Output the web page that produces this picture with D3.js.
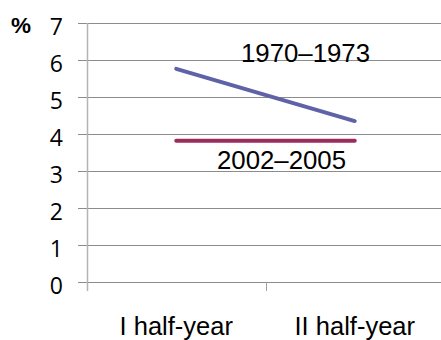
<!DOCTYPE html>
<html>
<head>
<meta charset="utf-8">
<script src="https://cdn.jsdelivr.net/npm/d3@7"></script>
<style>
  html, body { margin: 0; padding: 0; background: #fff; }
  svg { display: block; }
</style>
</head>
<body>
<div id="chart"></div>
<script>
// Half-year categories and the two period series (percent)
const categories = ["I half-year", "II half-year"];
const series1970 = [5.76, 4.35];
const series2002 = [3.82, 3.82];
const seriesNames = ["1970–1973", "2002–2005"];
const yTicks = [0, 1, 2, 3, 4, 5, 6, 7];

const width = 441, height = 340;
const plotLeft = 87, plotRight = 444, plotTop = 23, plotBottom = 282;

const svg = d3.select("#chart").append("svg")
  .attr("width", width).attr("height", height);

const x = d3.scaleBand().domain(categories).range([plotLeft, plotRight]);
const y = d3.scaleLinear().domain([0, 7]).range([plotBottom, plotTop]);

// Horizontal gridlines with short tick stubs to the left of the axis
svg.append("g").selectAll("line").data(yTicks).join("line")
  .attr("x1", plotLeft - 9).attr("x2", width)
  .attr("y1", d => Math.round(y(d)) + 0.5).attr("y2", d => Math.round(y(d)) + 0.5)
  .attr("stroke", "#8c8c8c").attr("stroke-width", 1);

// Value axis line
svg.append("line")
  .attr("x1", plotLeft + 0.5).attr("x2", plotLeft + 0.5)
  .attr("y1", plotTop).attr("y2", plotBottom + 9)
  .attr("stroke", "#b4b4b4").attr("stroke-width", 1.5);

// Category boundary tick between the two half-years
const boundaries = [x(categories[1])];
svg.append("g").selectAll("line").data(boundaries).join("line")
  .attr("x1", d => Math.round(d) + 0.5).attr("x2", d => Math.round(d) + 0.5)
  .attr("y1", plotBottom).attr("y2", plotBottom + 9)
  .attr("stroke", "#a0a0a0").attr("stroke-width", 1);

// Y tick labels
svg.append("g").selectAll("text").data(yTicks).join("text")
  .attr("x", 63).attr("y", d => y(d) + 12)
  .attr("text-anchor", "end")
  .attr("font-family", "'Open Sans', 'Noto Sans', sans-serif")
  .attr("font-size", 23)
  .attr("fill", "#000")
  .text(d => d);

// Unit label
svg.append("text")
  .attr("x", 11).attr("y", 33)
  .attr("font-family", "'Liberation Sans', Arial, sans-serif")
  .attr("font-weight", "bold")
  .attr("font-size", 22.5)
  .text("%");

// Category labels
svg.append("g").selectAll("text").data(categories).join("text")
  .attr("x", d => x(d) + x.bandwidth() / 2)
  .attr("y", 335)
  .attr("text-anchor", "middle")
  .attr("font-family", "'Liberation Sans', Arial, sans-serif")
  .attr("font-size", 25.5)
  .attr("fill", "#000")
  .text(d => d);

// Series lines
const line = d3.line()
  .x((d, i) => x(categories[i]) + x.bandwidth() / 2)
  .y(d => y(d));

svg.append("path").datum(series1970)
  .attr("d", line).attr("fill", "none")
  .attr("stroke", "#5f62a6").attr("stroke-width", 4)
  .attr("stroke-linecap", "round");

svg.append("path").datum(series2002)
  .attr("d", line).attr("fill", "none")
  .attr("stroke", "#9c2c5e").attr("stroke-width", 4)
  .attr("stroke-linecap", "round");

// Series labels
svg.append("text")
  .attr("x", 305.5).attr("y", 62)
  .attr("text-anchor", "middle")
  .attr("font-family", "'Liberation Sans', Arial, sans-serif")
  .attr("font-size", 25.8)
  .text(seriesNames[0]);

svg.append("text")
  .attr("x", 281.5).attr("y", 168.5)
  .attr("text-anchor", "middle")
  .attr("font-family", "'Liberation Sans', Arial, sans-serif")
  .attr("font-size", 25.8)
  .text(seriesNames[1]);
</script>
</body>
</html>
